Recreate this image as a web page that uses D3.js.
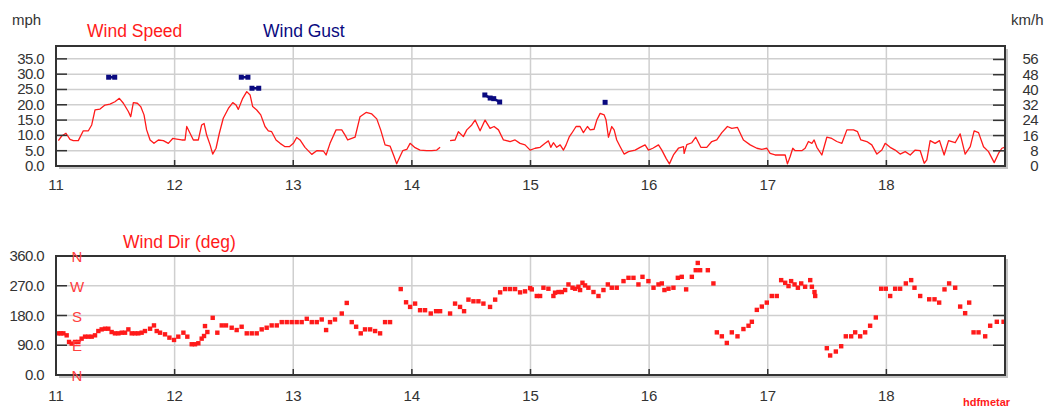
<!DOCTYPE html>
<html><head><meta charset="utf-8">
<script src="https://cdn.jsdelivr.net/npm/d3@7"></script>
<style>
body{margin:0;background:#fff;}
text{font-family:"Liberation Sans",Arial,sans-serif;}
</style>
</head><body>
<svg id="c" width="1056" height="413"></svg>
<script>
const dayTicks = [11,12,13,14,15,16,17,18];
const mphTicks = [0,5,10,15,20,25,30,35];
const kmhTicks = [0,8,16,24,32,40,48,56];
const degTicks = [0,90,180,270,360];
const compassLabels = ["N","E","S","W","N"];

const windSpeed = [
[11.020,8.3],[11.048,9.8],[11.084,10.7],[11.118,8.7],[11.146,8.3],[11.188,8.3],[11.230,11.5],[11.273,11.5],
[11.301,13.4],[11.329,18.3],[11.371,18.6],[11.413,19.9],[11.455,20.2],[11.497,21.0],[11.534,22.1],[11.568,20.5],
[11.610,17.8],[11.630,16.1],[11.652,20.7],[11.686,20.5],[11.714,19.4],[11.742,16.7],[11.764,11.8],[11.793,8.5],
[11.826,7.4],[11.863,8.5],[11.905,8.3],[11.947,7.4],[11.984,9.0],[12.017,8.8],[12.060,8.5],[12.088,8.5],
[12.102,12.9],[12.130,10.7],[12.158,8.5],[12.200,8.5],[12.228,13.4],[12.248,13.9],[12.270,10.1],[12.299,6.9],
[12.321,3.9],[12.349,5.8],[12.377,10.7],[12.410,15.6],[12.453,18.8],[12.490,20.7],[12.518,19.9],[12.537,18.5],
[12.574,22.1],[12.608,24.3],[12.636,23.2],[12.658,19.4],[12.692,18.3],[12.726,16.7],[12.762,12.9],[12.790,11.5],
[12.818,11.2],[12.855,8.5],[12.889,7.4],[12.931,6.3],[12.967,6.3],[13.001,7.4],[13.029,9.3],[13.057,8.5],
[13.099,6.1],[13.156,3.8],[13.198,5.0],[13.254,4.9],[13.277,3.6],[13.310,7.4],[13.361,11.8],[13.409,11.8],
[13.437,10.1],[13.459,8.5],[13.493,9.0],[13.521,9.4],[13.563,16.1],[13.614,17.5],[13.662,17.0],[13.704,15.4],
[13.737,11.8],[13.774,6.9],[13.816,6.5],[13.850,3.1],[13.872,0.7],[13.900,3.1],[13.923,5.0],[13.957,5.4],
[13.985,7.4],[14.027,6.0],[14.069,5.2],[14.125,5.0],[14.167,5.0],[14.210,5.2],[14.238,6.1],[14.280,null],
[14.322,8.3],[14.364,8.5],[14.392,11.2],[14.434,9.6],[14.463,11.8],[14.505,13.4],[14.533,15.0],[14.575,11.5],
[14.617,15.0],[14.659,12.3],[14.693,12.9],[14.730,11.8],[14.772,8.5],[14.828,8.0],[14.870,8.5],[14.912,7.4],
[14.954,6.9],[14.997,5.2],[15.039,5.8],[15.081,6.1],[15.123,7.4],[15.151,8.2],[15.171,6.1],[15.193,7.6],
[15.221,6.1],[15.250,6.9],[15.278,5.2],[15.300,6.9],[15.328,9.6],[15.348,10.7],[15.384,12.9],[15.418,12.9],
[15.446,10.9],[15.480,12.9],[15.503,11.8],[15.536,12.0],[15.559,15.0],[15.587,17.2],[15.621,16.7],[15.637,15.0],
[15.657,9.4],[15.685,12.9],[15.705,11.8],[15.727,8.5],[15.756,6.3],[15.789,3.9],[15.826,4.7],[15.882,5.2],
[15.924,6.1],[15.966,6.9],[15.994,5.2],[16.031,5.8],[16.079,6.9],[16.107,5.2],[16.143,2.5],[16.171,0.7],
[16.205,3.6],[16.247,5.8],[16.290,6.3],[16.295,4.1],[16.318,7.0],[16.360,7.6],[16.393,9.4],[16.436,6.1],
[16.486,6.1],[16.528,8.0],[16.570,8.5],[16.613,10.9],[16.660,12.9],[16.697,12.3],[16.745,12.6],[16.795,8.5],
[16.852,6.9],[16.908,5.8],[16.950,5.4],[16.992,5.8],[17.020,4.1],[17.062,3.6],[17.104,3.6],[17.147,3.6],
[17.166,0.7],[17.189,3.1],[17.211,5.8],[17.231,5.0],[17.287,5.0],[17.315,5.8],[17.343,8.0],[17.372,7.4],
[17.391,8.5],[17.414,6.1],[17.456,3.6],[17.498,9.4],[17.540,9.0],[17.582,8.0],[17.625,7.4],[17.667,11.8],
[17.723,11.8],[17.757,11.2],[17.785,8.5],[17.835,8.0],[17.877,6.9],[17.920,3.9],[17.962,5.2],[17.990,7.4],
[18.032,6.1],[18.074,5.2],[18.116,3.9],[18.159,4.7],[18.201,3.6],[18.243,5.2],[18.285,5.0],[18.319,0.9],
[18.341,2.0],[18.369,8.3],[18.411,7.4],[18.448,8.3],[18.487,3.6],[18.524,8.3],[18.580,7.6],[18.622,10.5],
[18.664,3.9],[18.707,6.3],[18.740,11.5],[18.777,10.9],[18.819,6.3],[18.861,4.7],[18.909,1.1],[18.945,4.1],
[18.974,5.8],[18.995,6.1]
];

// null entries separate reports that are not joined
const windGust = [
[11.444,29.0],[11.495,29.0],[11.52,null],
[12.562,29.0],[12.618,29.0],[12.63,null],[12.652,25.4],[12.709,25.4],[12.72,null],
[14.615,23.2],[14.660,22.2],[14.690,22.0],[14.740,20.9],[14.76,null],
[15.629,20.8]
];

const windDir = [
[11.020,126],[11.040,126],[11.062,126],[11.090,120],[11.110,100],[11.132,95],[11.160,100],[11.188,100],
[11.216,110],[11.245,116],[11.273,116],[11.301,116],[11.329,120],[11.357,133],[11.385,138],[11.413,140],
[11.441,140],[11.469,130],[11.497,126],[11.526,126],[11.554,128],[11.582,128],[11.610,138],[11.638,126],
[11.666,126],[11.694,126],[11.722,128],[11.750,133],[11.793,140],[11.826,150],[11.849,133],[11.877,128],
[11.919,123],[11.956,113],[11.995,106],[12.031,116],[12.074,128],[12.107,116],[12.144,93],[12.172,93],
[12.200,96],[12.228,110],[12.248,118],[12.256,148],[12.276,130],[12.321,173],[12.360,128],[12.397,150],
[12.433,150],[12.481,143],[12.523,136],[12.565,146],[12.608,126],[12.650,126],[12.692,126],[12.734,138],
[12.776,143],[12.818,150],[12.861,150],[12.903,160],[12.945,160],[12.987,160],[13.029,160],[13.071,160],
[13.114,170],[13.156,160],[13.198,160],[13.240,168],[13.277,136],[13.310,160],[13.352,168],[13.409,186],
[13.451,218],[13.493,160],[13.530,146],[13.569,126],[13.605,138],[13.648,138],[13.690,133],[13.732,126],
[13.774,160],[13.816,160],[13.906,260],[13.951,220],[13.985,206],[14.027,216],[14.069,196],[14.111,196],
[14.159,186],[14.204,193],[14.238,193],[14.322,186],[14.364,216],[14.406,206],[14.440,193],[14.477,228],
[14.519,223],[14.561,223],[14.603,216],[14.659,206],[14.702,228],[14.744,250],[14.786,260],[14.828,260],
[14.870,260],[14.912,250],[14.954,253],[14.997,263],[15.011,259],[15.053,239],[15.081,239],[15.109,264],
[15.151,261],[15.193,239],[15.207,249],[15.236,251],[15.264,251],[15.292,257],[15.320,274],[15.354,264],
[15.376,261],[15.404,267],[15.418,257],[15.438,279],[15.460,271],[15.488,264],[15.531,251],[15.573,239],
[15.615,257],[15.652,274],[15.685,264],[15.727,264],[15.784,284],[15.826,294],[15.868,294],[15.910,274],
[15.944,297],[15.994,284],[16.037,264],[16.079,274],[16.107,277],[16.129,257],[16.163,261],[16.205,264],
[16.242,294],[16.275,297],[16.312,259],[16.360,297],[16.393,317],[16.410,339],[16.430,317],[16.495,317],
[16.542,277],[16.571,129],[16.613,117],[16.655,97],[16.697,129],[16.745,117],[16.795,139],[16.838,149],
[16.866,161],[16.908,197],[16.950,207],[16.992,219],[17.034,239],[17.076,239],[17.113,287],[17.147,279],
[17.175,269],[17.197,284],[17.226,274],[17.254,264],[17.282,277],[17.315,267],[17.358,287],[17.372,267],
[17.394,251],[17.400,239],[17.498,81],[17.526,59],[17.574,71],[17.619,87],[17.658,117],[17.703,117],
[17.737,129],[17.779,117],[17.821,129],[17.863,149],[17.911,174],[17.956,261],[17.995,261],[18.032,239],
[18.074,261],[18.116,261],[18.164,277],[18.209,287],[18.237,264],[18.285,239],[18.361,229],[18.406,229],
[18.445,219],[18.490,259],[18.529,277],[18.580,264],[18.622,207],[18.664,187],[18.698,219],[18.735,129],
[18.777,129],[18.833,117],[18.875,149],[18.931,161],[18.988,161]
];

const svg = d3.select("#c");
const x = d3.scaleLinear().domain([11,19]).range([56,1005]);
const yS = d3.scaleLinear().domain([0,39.2]).range([166,46]);
const yD = d3.scaleLinear().domain([0,360]).range([375,256]);
const RED = "#ff1a1a", NAVY = "#0a0a80", GRID = "#cfcfcf", DARK = "#333";

function panel(y, hGrid) {
  const [y0, y1] = y.range();
  const x0 = x.range()[0], x1 = x.range()[1];
  const g = svg.append("g");
  g.append("rect").attr("x", x0 + 3).attr("y", y1 + 3).attr("width", x1 - x0).attr("height", y0 - y1)
    .attr("fill", "#c4c4c4");
  g.append("rect").attr("x", x0).attr("y", y1).attr("width", x1 - x0).attr("height", y0 - y1)
    .attr("fill", "#fff");
  g.selectAll(".hg").data(hGrid).enter().append("line")
    .attr("x1", x0).attr("x2", x1).attr("y1", d => y(d)).attr("y2", d => y(d))
    .attr("stroke", GRID).attr("stroke-width", 1.5);
  g.selectAll(".vg").data(dayTicks.slice(1)).enter().append("line")
    .attr("x1", d => x(d)).attr("x2", d => x(d)).attr("y1", y1).attr("y2", y0)
    .attr("stroke", GRID).attr("stroke-width", 1.5);
  return g;
}

function frame(g, y, hTicksLeft, rightTickVals) {
  const [y0, y1] = y.range();
  const x0 = x.range()[0], x1 = x.range()[1];
  g.selectAll(".lt").data(hTicksLeft).enter().append("line")
    .attr("x1", x0).attr("x2", x0 + 11).attr("y1", d => y(d)).attr("y2", d => y(d))
    .attr("stroke", DARK).attr("stroke-width", 1.5);
  g.selectAll(".rt").data(rightTickVals).enter().append("line")
    .attr("x1", x1 - 12).attr("x2", x1).attr("y1", d => y(d)).attr("y2", d => y(d))
    .attr("stroke", DARK).attr("stroke-width", 1.5);
  g.selectAll(".bt").data(dayTicks.slice(1)).enter().append("line")
    .attr("x1", d => x(d)).attr("x2", d => x(d)).attr("y1", y0).attr("y2", y0 - 6)
    .attr("stroke", DARK).attr("stroke-width", 1.5);
  g.append("rect").attr("x", x0).attr("y", y1).attr("width", x1 - x0).attr("height", y0 - y1)
    .attr("fill", "none").attr("stroke", DARK).attr("stroke-width", 2);
}

function xLabels(base) {
  svg.selectAll(null).data(dayTicks).enter().append("text")
    .attr("x", d => x(d)).attr("y", base).attr("text-anchor", "middle")
    .attr("font-size", 15).attr("fill", "#333").text(d => d);
}

// ---------- top panel ----------
const gTop = panel(yS, mphTicks.slice(1));
const line = d3.line().defined(d => d[1] != null).x(d => x(d[0])).y(d => yS(d[1]));
gTop.append("path").datum(windSpeed).attr("d", line).attr("fill", "none")
  .attr("stroke", RED).attr("stroke-width", 1.3).attr("stroke-linejoin", "round");

gTop.append("path").datum(windGust).attr("d", line).attr("fill", "none")
  .attr("stroke", NAVY).attr("stroke-width", 2.5);
gTop.selectAll(".gp").data(windGust.filter(d => d[1] != null)).enter().append("rect")
  .attr("x", d => x(d[0]) - 2.5).attr("y", d => yS(d[1]) - 2.5).attr("width", 5).attr("height", 5)
  .attr("fill", NAVY);

frame(gTop, yS, mphTicks, kmhTicks.map(k => k / 1.609344));

svg.selectAll(null).data(mphTicks).enter().append("text")
  .attr("x", 44).attr("y", d => yS(d) + 5).attr("text-anchor", "end")
  .attr("font-size", 15).attr("letter-spacing", -0.6).attr("fill", "#333").text(d => d.toFixed(1));
svg.selectAll(null).data(kmhTicks).enter().append("text")
  .attr("x", 1038).attr("y", d => yS(d / 1.609344) + 5).attr("text-anchor", "end")
  .attr("font-size", 15).attr("letter-spacing", -0.6).attr("fill", "#333").text(d => d);
xLabels(190);

svg.append("text").attr("x", 12).attr("y", 25).attr("font-size", 15).attr("fill", "#333").text("mph");
svg.append("text").attr("x", 1011).attr("y", 25).attr("font-size", 15).attr("fill", "#333").text("km/h");
svg.append("text").attr("x", 87).attr("y", 37).attr("font-size", 17.5).attr("fill", RED).text("Wind Speed");
svg.append("text").attr("x", 263).attr("y", 37).attr("font-size", 17.5).attr("fill", NAVY).text("Wind Gust");

// ---------- bottom panel ----------
const gBot = panel(yD, [90, 180, 270]);
svg.selectAll(null).data(degTicks).enter().append("text")
  .attr("x", 77).attr("y", d => yD(d) + 6).attr("text-anchor", "middle")
  .attr("font-size", 15).attr("fill", "#ff4040").text((d, i) => compassLabels[i]);
gBot.selectAll(".wd").data(windDir).enter().append("rect")
  .attr("x", d => x(d[0]) - 2.2).attr("y", d => yD(d[1]) - 2.2).attr("width", 4.4).attr("height", 4.4)
  .attr("fill", RED);
frame(gBot, yD, [90, 180, 270], [90, 180, 270]);
svg.selectAll(null).data(degTicks).enter().append("text")
  .attr("x", 44).attr("y", d => yD(d) + 5).attr("text-anchor", "end")
  .attr("font-size", 15).attr("letter-spacing", -0.6).attr("fill", "#333").text(d => d.toFixed(1));
xLabels(401);
svg.append("text").attr("x", 123).attr("y", 248).attr("font-size", 17.5).attr("fill", RED).text("Wind Dir (deg)");
svg.append("text").attr("x", 963).attr("y", 406).attr("font-size", 11).attr("font-weight", "bold")
  .attr("fill", RED).text("hdfmetar");
</script>
</body></html>
